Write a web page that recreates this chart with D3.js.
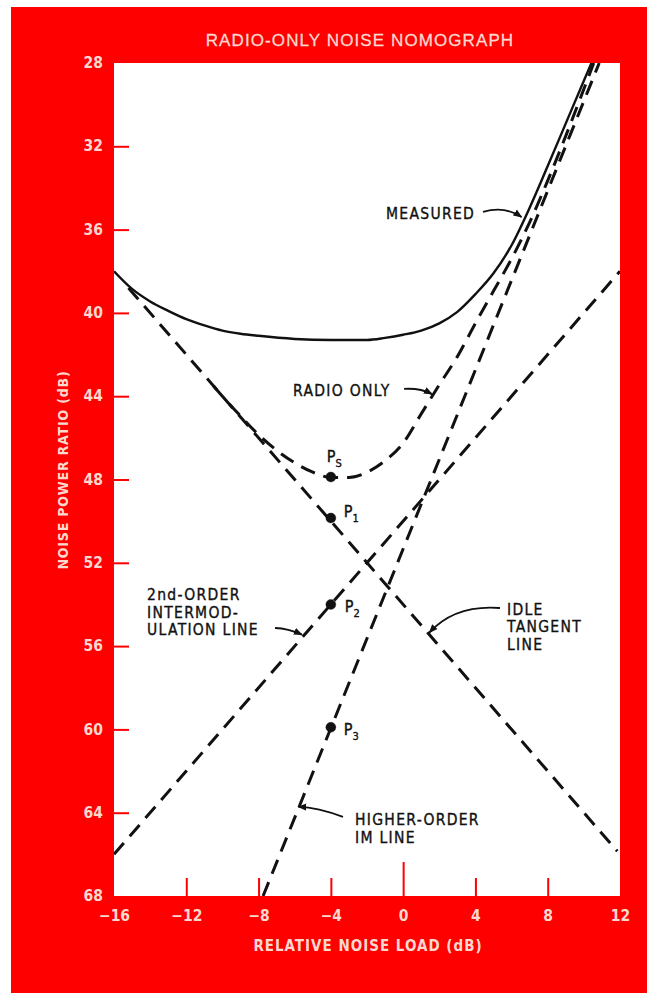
<!DOCTYPE html>
<html><head><meta charset="utf-8">
<script src="https://cdn.jsdelivr.net/npm/d3@7"></script>
<style>
html,body{margin:0;padding:0;background:#fff;}
svg{display:block;}
</style></head><body>
<script>
// ---------- data ----------
const title = "RADIO-ONLY NOISE NOMOGRAPH";
const xLabel = "RELATIVE NOISE LOAD (dB)";
const yLabel = "NOISE POWER RATIO (dB)";
const xTicks = [-16, -12, -8, -4, 0, 4, 8, 12];
const yTicks = [28, 32, 36, 40, 44, 48, 52, 56, 60, 64, 68];

// measured NPR curve (solid)
const measured = [[-16,38.0],[-15,38.85],[-14,39.45],[-13,39.9],[-12,40.3],[-11,40.6],[-10,40.85],[-9,41.0],[-8,41.1],[-6,41.25],[-4,41.3],[-2,41.3],[-1,41.2],[0,41.05],[1,40.85],[2,40.5],[3,39.95],[4,39.1],[5,38.1],[6,36.75],[7,34.95],[8,32.95],[9,30.9],[10,28.85],[10.42,28.0]];
// radio-only curve (dashed)
const radioOnly = [[-10.5,43.5],[-10,44.0],[-9,44.95],[-8,45.85],[-7,46.6],[-6,47.2],[-5,47.65],[-4,47.9],[-3,47.9],[-2,47.65],[-1,47.1],[0,46.25],[1,44.85],[2,43.45],[3,42.1],[4,40.5],[5,38.95],[6,37.4],[7,35.65],[8,33.65],[9,31.5],[10,29.25],[10.55,28.0]];
// straight asymptote lines (dashed)
const idleLine = [[-15.2,38.8],[11.85,65.85]];
const im2Line = [[-16,66],[12,38]];
const hoLine = [[-7.75,68],[10.85,28]];
// labelled points
const pointNames = ["S","1","2","3"];
const pointX = [-4,-4,-4,-4];
const pointY = [47.88,49.85,54,59.9];

// ---------- layout ----------
const W = 647, H = 993;
const plot = {l:114, r:620, t:63, b:896};
const RED = "#fe0000", PALE = "#fcd8cf";
const condensed = "'DejaVu Sans Condensed','DejaVu Sans',sans-serif";

const svg = d3.select("body").append("svg").attr("width", W).attr("height", H);
svg.append("rect").attr("x",0).attr("y",0).attr("width",W).attr("height",H).attr("fill","#fff");
svg.append("rect").attr("x",11).attr("y",7).attr("width",W-11).attr("height",H-7).attr("fill",RED);
svg.append("rect").attr("x",plot.l).attr("y",plot.t).attr("width",plot.r-plot.l).attr("height",plot.b-plot.t).attr("fill","#fff");

const x = d3.scaleLinear().domain([-16,12]).range([plot.l, plot.r]);
const y = d3.scaleLinear().domain([28,68]).range([plot.t, plot.b]);

svg.append("defs").append("clipPath").attr("id","clip")
  .append("rect").attr("x",plot.l).attr("y",plot.t).attr("width",plot.r-plot.l).attr("height",plot.b-plot.t);
const defs = svg.select("defs");
defs.append("marker").attr("id","arr").attr("viewBox","0 0 10 10").attr("refX",9).attr("refY",5)
  .attr("markerWidth",9).attr("markerHeight",9).attr("markerUnits","userSpaceOnUse").attr("orient","auto")
  .append("path").attr("d","M0,1 L10,5 L0,9 Z").attr("fill","#111");

// title
svg.append("text").attr("x", 360).attr("y", 46).attr("text-anchor","middle")
  .attr("font-family","'Liberation Sans',Arial,sans-serif").attr("font-size",17).attr("letter-spacing",1.1)
  .attr("stroke",PALE).attr("stroke-width",0.3)
  .attr("fill",PALE).text(title);

// y axis
const yAxis = d3.axisLeft(y).tickValues(yTicks).tickSize(-15).tickPadding(11).tickFormat(d3.format("d"));
const gy = svg.append("g").attr("transform",`translate(${plot.l},0)`).call(yAxis);
gy.select(".domain").remove();
gy.selectAll(".tick line").attr("stroke",RED).attr("stroke-width",2)
  .filter(d => d===28 || d===68).remove();
gy.selectAll(".tick text").attr("fill",PALE).attr("font-family",condensed).attr("font-weight","bold")
  .attr("font-size",15.5).attr("dy","0.3em");

// x axis
const xAxis = d3.axisBottom(x).tickValues(xTicks).tickSize(-18).tickPadding(14).tickFormat(d => d<0 ? "\u2212"+Math.abs(d) : d);
const gx = svg.append("g").attr("transform",`translate(0,${plot.b})`).call(xAxis);
gx.select(".domain").remove();
gx.selectAll(".tick line").attr("stroke",RED).attr("stroke-width",2)
  .attr("y2", d => d===0 ? -34 : -18)
  .filter(d => d===-16 || d===12).remove();
gx.selectAll(".tick text").attr("fill",PALE).attr("font-family",condensed).attr("font-weight","bold")
  .attr("font-size",15.5);

// axis titles
svg.append("text").attr("x", 368).attr("y", 951).attr("text-anchor","middle")
  .attr("font-family",condensed).attr("font-weight","bold").attr("font-size",15).attr("letter-spacing",1)
  .attr("fill",PALE).text(xLabel);
svg.append("text").attr("transform","translate(68,470) rotate(-90)").attr("text-anchor","middle")
  .attr("font-family",condensed).attr("font-weight","bold").attr("font-size",14).attr("letter-spacing",0.8)
  .attr("fill",PALE).text(yLabel);

// curves
const gPlot = svg.append("g").attr("clip-path","url(#clip)");
const line = d3.line().x(d => x(d[0])).y(d => y(d[1]));
const smooth = d3.line().x(d => x(d[0])).y(d => y(d[1])).curve(d3.curveMonotoneX);
const dash = "15,9";

[idleLine, im2Line, hoLine].forEach(L => {
  gPlot.append("path").datum(L).attr("d", line).attr("fill","none").attr("stroke","#111")
    .attr("stroke-width",3).attr("stroke-dasharray",dash);
});
gPlot.append("path").datum(radioOnly).attr("d", smooth).attr("fill","none").attr("stroke","#111")
  .attr("stroke-width",3).attr("stroke-dasharray",dash);
gPlot.append("path").datum(measured).attr("d", smooth).attr("fill","none").attr("stroke","#111")
  .attr("stroke-width",2.4);

// points
const ann = svg.append("g").attr("font-family",condensed).attr("fill","#111")
  .attr("stroke","#111").attr("stroke-width",0.35);
const labelOff = [[-4,-15],[13,-1],[14,8],[13,8]];
pointNames.forEach((s,i) => {
  ann.append("circle").attr("cx",x(pointX[i])).attr("cy",y(pointY[i])).attr("r",5).attr("fill","#111");
  const t = ann.append("text").attr("x",x(pointX[i])+labelOff[i][0]).attr("y",y(pointY[i])+labelOff[i][1])
    .attr("font-size",16);
  t.append("tspan").text("P");
  t.append("tspan").attr("font-size",11).attr("dy",5).text(s);
});

// annotations (anchors in data units)
function label(lines, xv, yv, dy) {
  const t = ann.append("text").attr("font-size",15.5).attr("letter-spacing",1.3);
  lines.forEach((s,i) => t.append("tspan").attr("x",x(xv)).attr("y",y(yv)+i*dy).text(s));
}
function arrow(p0, c, p1) {
  const p = d3.path();
  p.moveTo(x(p0[0]), y(p0[1]));
  p.quadraticCurveTo(x(c[0]), y(c[1]), x(p1[0]), y(p1[1]));
  ann.append("path").attr("d", p.toString()).attr("fill","none").attr("stroke","#111")
    .attr("stroke-width",1.8).attr("marker-end","url(#arr)");
}
label(["MEASURED"], -0.95, 35.49, 0);
arrow([4.42,35.15],[5.64,34.85],[6.55,35.4]);
label(["RADIO ONLY"], -6.09, 43.99, 0);
arrow([0.05,43.65],[0.93,43.6],[1.6,43.9]);
label(["2nd-ORDER","INTERMOD-","ULATION LINE"], -14.17, 53.79, 17.5);
arrow([-7.09,55.13],[-6.37,55.15],[-5.6,55.45]);
label(["IDLE","TANGENT","LINE"], 5.75, 54.5, 17.5);
arrow([5.36,54.17],[2.87,54.0],[1.45,55.35]);
label(["HIGHER-ORDER","IM LINE"], -2.66, 64.59, 18);
arrow([-3.33,64.2],[-4.71,63.75],[-5.8,63.72]);
</script>
</body></html>
